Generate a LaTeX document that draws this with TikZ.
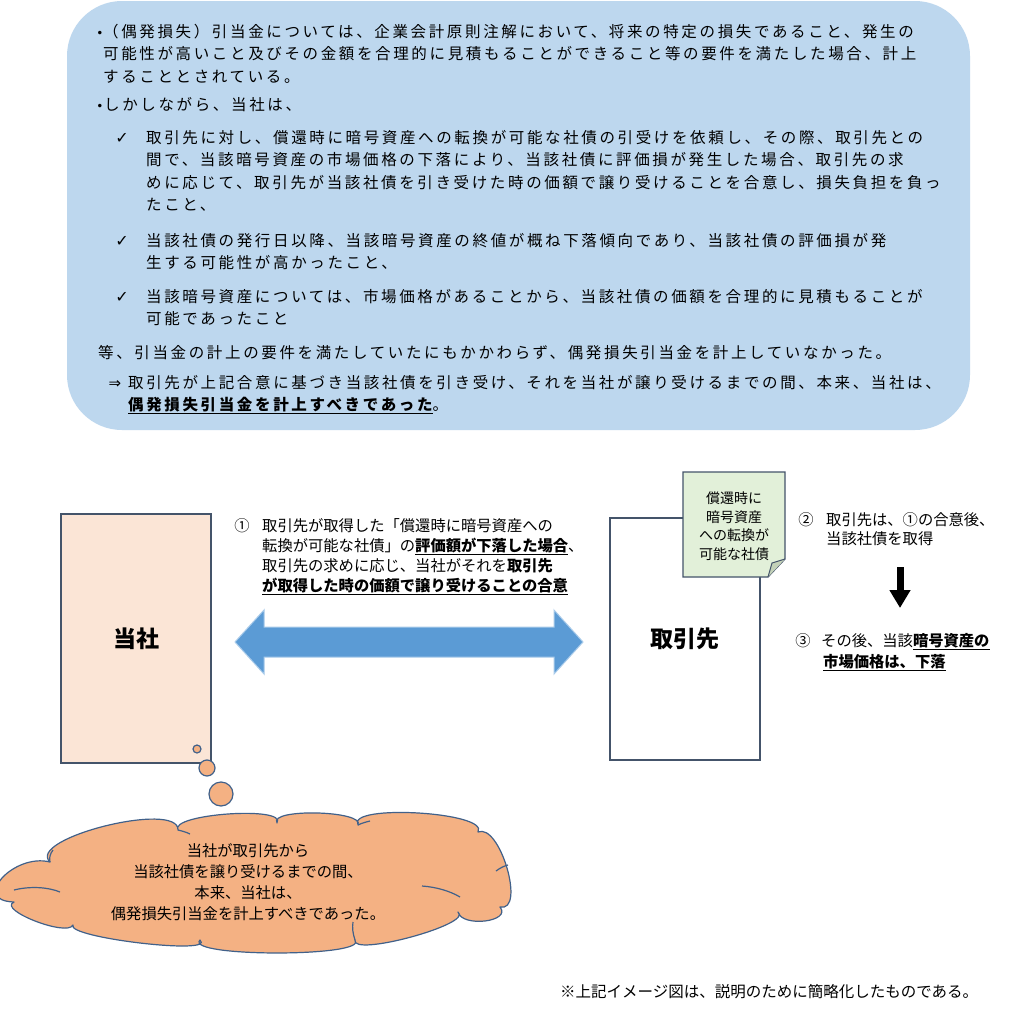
\documentclass[tikz,border=0pt]{standalone}
\usepackage{fontspec}
\setmainfont{Noto Sans CJK JP}
\newfontfamily\jpwide[LetterSpace=17]{Noto Sans CJK JP}
\newfontfamily\symfont{DejaVu Sans}
\usetikzlibrary{arrows.meta,positioning}
\definecolor{panel}{HTML}{BDD7EE}
\definecolor{toshafill}{HTML}{FBE5D6}
\definecolor{frame}{HTML}{44546A}
\definecolor{notefill}{HTML}{E2F0D9}
\definecolor{foldfill}{HTML}{C3D1B8}
\definecolor{arrowblue}{HTML}{5B9BD5}
\definecolor{arrowedge}{HTML}{A9CBEA}
\definecolor{cloudfill}{HTML}{F4B183}
\definecolor{cloudedge}{HTML}{41618A}
\begin{document}
\begin{tikzpicture}[x=1pt,y=-1pt,
  topline/.style={anchor=base west,inner sep=0pt,font=\jpwide\fontsize{15.5}{18}\selectfont},
  smalltext/.style={anchor=base west,inner sep=0pt,font=\fontsize{15.3}{18}\selectfont},
  bulletmark/.style={anchor=base,inner sep=0pt,font=\symfont\fontsize{12}{14}\selectfont},
  checkmark/.style={anchor=base,inner sep=0pt,font=\symfont\fontsize{16}{18}\selectfont},
  party/.style={draw=frame,line width=1.2pt,inner sep=0pt,font=\bfseries\fontsize{23}{26}\selectfont},
  bubble/.style={draw=cloudedge,fill=cloudfill,line width=1.2pt}]
\useasboundingbox (0,0) rectangle (1015,1009);
\fill[white] (0,0) rectangle (1015,1009);
% top panel
\fill[panel,rounded corners=55pt] (67,1) rectangle (970,430);
\node[bulletmark] (b1) at (100,37) {•};
\foreach \t [count=\i from 0] in {{（偶発損失）引当金については、企業会計原則注解において、将来の特定の損失であること、発生の},
  {可能性が高いこと及びその金額を合理的に見積もることができること等の要件を満たした場合、計上},
  {することとされている。}}
  \node[topline] (p1-\i) at (103,37+22.5*\i) {\t};
\node[bulletmark] (b2) at (100,110) {•};
\node[topline] (p2) at (104,110) {しかしながら、当社は、};
% check items
\node[checkmark] (c1) at (122,143) {✓};
\foreach \t [count=\i from 0] in {{取引先に対し、償還時に暗号資産への転換が可能な社債の引受けを依頼し、その際、取引先との},
  {間で、当該暗号資産の市場価格の下落により、当該社債に評価損が発生した場合、取引先の求},
  {めに応じて、取引先が当該社債を引き受けた時の価額で譲り受けることを合意し、損失負担を負っ},
  {たこと、}}
  \node[topline] (c1-\i) at (146,143+22.5*\i) {\t};
\node[checkmark] (c2) at (122,246) {✓};
\node[topline] (c2-0) at (146,246) {当該社債の発行日以降、当該暗号資産の終値が概ね下落傾向であり、当該社債の評価損が発};
\node[topline] (c2-1) at (146,268.5) {生する可能性が高かったこと、};
\node[checkmark] (c3) at (122,302) {✓};
\node[topline] (c3-0) at (146,302) {当該暗号資産については、市場価格があることから、当該社債の価額を合理的に見積もることが};
\node[topline] (c3-1) at (146,324.5) {可能であったこと};
\node[topline] (p3) at (98,358) {等、引当金の計上の要件を満たしていたにもかかわらず、偶発損失引当金を計上していなかった。};
\node[bulletmark,font=\symfont\fontsize{15}{18}\selectfont] (imp) at (115,388) {⇒};
\node[topline] (p4-0) at (128,388) {取引先が上記合意に基づき当該社債を引き受け、それを当社が譲り受けるまでの間、本来、当社は、};
\node[topline] (p4-1) at (128,410.5) {\underline{\bfseries 偶発損失引当金を計上すべきであった}。};
% parties
\node[party,fill=toshafill,minimum width=150pt,minimum height=249pt] (tosha) at (136,638.5) {当社};
\node[party,fill=white,minimum width=150pt,minimum height=242pt] (torihiki) at (685,639) {取引先};
% note on the bond
\filldraw[fill=notefill,draw=frame,line width=1.2pt] (683,472) -- (785,472) -- (785,559) -- (768,577) -- (683,577) -- cycle;
\filldraw[fill=foldfill,draw=frame,line width=1pt] (785,559) -- (772,563) -- (768,577);
\node[align=center,inner sep=0pt,font=\fontsize{14}{18.5}\selectfont] (note) at (734,526) {償還時に\\暗号資産\\への転換が\\可能な社債};
% agreement
\coordinate (aL) at (235,642);
\coordinate (aR) at (583,642);
\filldraw[fill=arrowblue,draw=arrowedge,line width=1pt] (aL) -- ++(29,-32) -- ++(0,17) -- ++(290,0) -- ++(0,-17)
  -- (aR) -- ++(-29,32) -- ++(0,-17) -- ++(-290,0) -- ++(0,17) -- cycle;
\node[smalltext,anchor=base] (n1) at (242,531) {①};
\foreach \t [count=\i from 0] in {{取引先が取得した「償還時に暗号資産への},
  {転換が可能な社債」の\underline{\bfseries 評価額が下落した場合}、},
  {取引先の求めに応じ、当社がそれを{\bfseries 取引先}},
  {\underline{\bfseries が取得した時の価額で譲り受けることの合意}}}
  \node[smalltext] (t1-\i) at (262,531+20*\i) {\t};
% right side
\node[smalltext,anchor=base] (n2) at (806,525) {②};
\node[smalltext] (t2-0) at (826,525) {取引先は、①の合意後、};
\node[smalltext] (t2-1) at (826,544) {当該社債を取得};
\coordinate (dtop) at (900,567);
\coordinate (dbot) at (900,608);
\draw[-{Triangle[length=18pt,width=20pt]},line width=7pt] (dtop) -- (dbot);
\node[smalltext,anchor=base] (n3) at (803,646) {③};
\node[smalltext] (t3-0) at (821,646) {その後、当該\underline{\bfseries 暗号資産の}};
\node[smalltext] (t3-1) at (823,667) {\underline{\bfseries 市場価格は、下落}};
% thought
\draw[bubble] (197,749) circle[radius=4pt];
\draw[bubble] (207,768) circle[radius=8pt];
\draw[bubble] (221,794) circle[radius=12pt];
\filldraw[bubble,line join=round] (50,862) .. controls (25.2,838.5) and (178.8,800.1) .. (178,830)
  .. controls (168.8,814) and (287.6,805.6) .. (277,823)
  .. controls (268.2,808.1) and (365.4,810.5) .. (358,825)
  .. controls (346,803.6) and (490,812) .. (478,832)
  .. controls (499.8,822.5) and (526.2,912.5) .. (500,907)
  .. controls (512.2,921.8) and (461.8,927.8) .. (458,912)
  .. controls (474.3,923.9) and (350.7,957.5) .. (355,940)
  .. controls (369.8,957.3) and (183.8,957.3) .. (200,940)
  .. controls (217.4,955.5) and (65,937.5) .. (73,925)
  .. controls (67.6,937.3) and (-3.2,909.7) .. (14,902)
  .. controls (-29.6,900.7) and (13.6,852.7) .. (50,862) -- cycle;
% inner strokes of the cloud
\draw[cloudedge,line width=1.2pt] (14,890) .. controls (30,886) and (48,887) .. (60,892);
\draw[cloudedge,line width=1.2pt] (50,862) .. controls (49,858) and (50,854) .. (53,850);
\draw[cloudedge,line width=1.2pt] (178,830) .. controls (182,831) and (186,832) .. (190,834);
\draw[cloudedge,line width=1.2pt] (358,825) .. controls (362,823) and (366,822) .. (370,821);
\draw[cloudedge,line width=1.2pt] (422,886) .. controls (436,887) and (450,891) .. (460,897);
\draw[cloudedge,line width=1.2pt] (496,871) .. controls (500,868) and (504,866) .. (508,865);
\draw[cloudedge,line width=1.2pt] (355,940) .. controls (353,934) and (352,928) .. (353,922);
\foreach \t [count=\i from 0] in {{当社が取引先から},{当該社債を譲り受けるまでの間、},{本来、当社は、},{偶発損失引当金を計上すべきであった。}}
  \node[smalltext,anchor=base] (k-\i) at (248,856+21*\i) {\t};
\node[smalltext,font=\fontsize{15.5}{18}\selectfont] (foot) at (560,997) {※上記イメージ図は、説明のために簡略化したものである。};
\end{tikzpicture}
\end{document}
